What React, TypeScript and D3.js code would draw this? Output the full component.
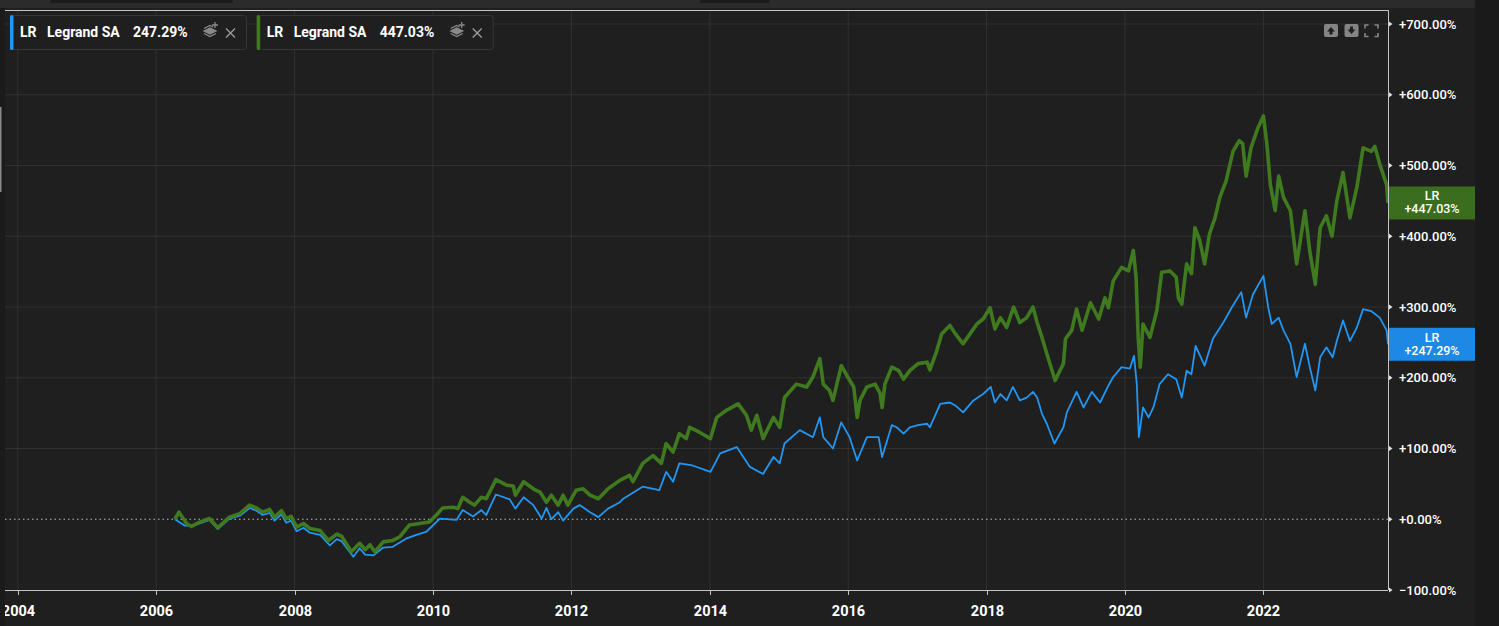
import React from "react";
import * as d3 from "d3";

const W = 1499;
const H = 626;

// [decimal year, % change since IPO] — price only
const priceReturn: [number, number][] = [
  [2006.27, 0], [2006.41, -9], [2006.53, -9], [2006.63, -6], [2006.77, -1], [2006.89, -14],
  [2007.06, 1], [2007.21, 5], [2007.35, 16], [2007.45, 12], [2007.54, 6], [2007.64, 9],
  [2007.71, -2], [2007.81, 7], [2007.88, -5], [2007.95, -2], [2008.03, -17], [2008.13, -12],
  [2008.22, -19], [2008.37, -22], [2008.51, -37], [2008.61, -28], [2008.68, -31], [2008.85, -53],
  [2008.94, -41], [2009.02, -50], [2009.14, -51], [2009.28, -40], [2009.42, -39], [2009.62, -27],
  [2009.76, -22], [2009.9, -18], [2010.1, 1], [2010.34, -1], [2010.43, 13], [2010.58, 4],
  [2010.7, 13], [2010.77, 6], [2010.91, 35], [2011.11, 28], [2011.19, 15], [2011.31, 31],
  [2011.45, 20], [2011.57, 1], [2011.64, 16], [2011.71, 0], [2011.81, 10], [2011.88, -2],
  [2012.03, 15], [2012.12, 20], [2012.27, 10], [2012.39, 3], [2012.53, 15], [2012.7, 24],
  [2012.75, 29], [2013.03, 46], [2013.27, 41], [2013.37, 67], [2013.47, 53], [2013.56, 79],
  [2013.75, 76], [2014.01, 67], [2014.15, 93], [2014.39, 102], [2014.58, 74], [2014.77, 64],
  [2014.92, 88], [2015.01, 79], [2015.08, 107], [2015.3, 126], [2015.49, 116], [2015.59, 144],
  [2015.64, 116], [2015.78, 100], [2015.9, 137], [2016.02, 116], [2016.13, 83], [2016.27, 116],
  [2016.44, 116], [2016.49, 88], [2016.63, 133], [2016.7, 130], [2016.8, 121], [2016.89, 130],
  [2017.01, 133], [2017.14, 135], [2017.18, 130], [2017.33, 163], [2017.47, 165], [2017.56, 160],
  [2017.66, 151], [2017.81, 168], [2017.95, 177], [2018.06, 187], [2018.12, 165], [2018.2, 177],
  [2018.29, 168], [2018.38, 187], [2018.48, 168], [2018.58, 172], [2018.67, 180], [2018.73, 172],
  [2018.8, 149], [2018.87, 135], [2018.98, 107], [2019.11, 130], [2019.16, 151], [2019.3, 180],
  [2019.4, 158], [2019.52, 180], [2019.64, 165], [2019.76, 189], [2019.83, 201], [2019.95, 215],
  [2020.07, 213], [2020.13, 231], [2020.17, 191], [2020.2, 116], [2020.26, 158], [2020.34, 144],
  [2020.41, 158], [2020.5, 191], [2020.62, 205], [2020.74, 198], [2020.82, 172], [2020.89, 210],
  [2020.96, 205], [2021.02, 245], [2021.15, 217], [2021.27, 255], [2021.42, 278], [2021.54, 299],
  [2021.68, 321], [2021.75, 285], [2021.85, 318], [2022.0, 344], [2022.07, 299], [2022.12, 276],
  [2022.22, 285], [2022.29, 267], [2022.39, 248], [2022.48, 201], [2022.6, 248], [2022.67, 215],
  [2022.75, 182], [2022.82, 229], [2022.91, 243], [2023.0, 229], [2023.06, 252], [2023.15, 281],
  [2023.25, 252], [2023.35, 271], [2023.44, 297], [2023.56, 294], [2023.68, 285], [2023.78, 267],
  [2023.8, 247],
];

// [decimal year, % change since IPO] — dividends reinvested
const totalReturn: [number, number][] = [
  [2006.27, 0], [2006.33, 10], [2006.44, -6], [2006.51, -10], [2006.63, -4], [2006.77, 1],
  [2006.89, -12], [2007.06, 3], [2007.21, 8], [2007.35, 20], [2007.45, 16], [2007.54, 10],
  [2007.64, 14], [2007.71, 3], [2007.81, 12], [2007.88, 1], [2007.95, 4], [2008.03, -11],
  [2008.13, -6], [2008.22, -13], [2008.37, -16], [2008.49, -30], [2008.61, -21], [2008.68, -24],
  [2008.82, -46], [2008.94, -34], [2009.02, -43], [2009.09, -36], [2009.16, -46], [2009.28, -32],
  [2009.42, -30], [2009.52, -25], [2009.66, -8], [2009.81, -6], [2009.95, -4], [2010.05, 6],
  [2010.14, 16], [2010.29, 17], [2010.36, 15], [2010.43, 31], [2010.53, 24], [2010.6, 20],
  [2010.7, 31], [2010.77, 29], [2010.91, 56], [2011.07, 48], [2011.16, 47], [2011.19, 34],
  [2011.31, 53], [2011.45, 43], [2011.55, 38], [2011.64, 24], [2011.71, 34], [2011.81, 20],
  [2011.88, 34], [2011.95, 20], [2012.07, 41], [2012.17, 43], [2012.27, 34], [2012.39, 29],
  [2012.53, 43], [2012.7, 55], [2012.84, 62], [2012.89, 53], [2013.03, 79], [2013.18, 90],
  [2013.3, 79], [2013.37, 107], [2013.47, 95], [2013.56, 121], [2013.66, 114], [2013.71, 130],
  [2013.85, 123], [2014.01, 114], [2014.1, 144], [2014.24, 154], [2014.41, 163], [2014.53, 147],
  [2014.6, 126], [2014.68, 147], [2014.77, 114], [2014.92, 144], [2015.01, 130], [2015.08, 172],
  [2015.25, 191], [2015.4, 187], [2015.49, 201], [2015.59, 227], [2015.64, 191], [2015.73, 182],
  [2015.78, 168], [2015.9, 217], [2016.0, 200], [2016.08, 187], [2016.13, 144], [2016.17, 168],
  [2016.27, 187], [2016.39, 191], [2016.46, 178], [2016.49, 158], [2016.53, 191], [2016.63, 215],
  [2016.73, 210], [2016.8, 198], [2016.89, 210], [2017.01, 220], [2017.14, 222], [2017.18, 211],
  [2017.28, 238], [2017.35, 262], [2017.47, 274], [2017.55, 262], [2017.66, 248], [2017.76, 262],
  [2017.86, 276], [2017.95, 283], [2018.05, 299], [2018.12, 269], [2018.2, 285], [2018.29, 271],
  [2018.39, 300], [2018.48, 278], [2018.58, 285], [2018.67, 300], [2018.73, 278], [2018.8, 257],
  [2018.87, 234], [2018.99, 196], [2019.11, 220], [2019.14, 255], [2019.23, 267], [2019.3, 297],
  [2019.38, 267], [2019.5, 306], [2019.62, 283], [2019.71, 313], [2019.76, 299], [2019.83, 337],
  [2019.95, 356], [2020.05, 351], [2020.12, 380], [2020.16, 342], [2020.19, 257], [2020.22, 215],
  [2020.26, 276], [2020.36, 257], [2020.46, 295], [2020.53, 349], [2020.65, 351], [2020.74, 342],
  [2020.77, 313], [2020.82, 304], [2020.89, 361], [2020.96, 347], [2021.01, 412], [2021.08, 394],
  [2021.15, 361], [2021.22, 403], [2021.3, 426], [2021.37, 455], [2021.46, 478], [2021.56, 520],
  [2021.65, 535], [2021.7, 531], [2021.75, 485], [2021.82, 525], [2021.92, 553], [2022.0, 570],
  [2022.05, 530], [2022.1, 473], [2022.17, 436], [2022.22, 485], [2022.29, 455], [2022.39, 436],
  [2022.48, 361], [2022.6, 436], [2022.67, 379], [2022.75, 332], [2022.82, 412], [2022.91, 429],
  [2022.99, 400], [2023.06, 450], [2023.15, 490], [2023.25, 426], [2023.35, 469], [2023.44, 525],
  [2023.56, 520], [2023.61, 527], [2023.68, 502], [2023.78, 473], [2023.8, 447],
];

const xTicks = [2004, 2006, 2008, 2010, 2012, 2014, 2016, 2018, 2020, 2022];
const yTicks = [-100, 0, 100, 200, 300, 400, 500, 600, 700];

const BLUE = "#2196f3";
const GREEN = "#3f7a1f";

const legendItems = [
  { symbol: "LR", name: "Legrand SA", change: "247.29%", color: BLUE },
  { symbol: "LR", name: "Legrand SA", change: "447.03%", color: GREEN },
];

const lastValues = [
  { symbol: "LR", value: 447.03, color: "#3a6e1e" },
  { symbol: "LR", value: 247.29, color: "#1e88e5" },
];

const FONT = "Roboto, 'Noto Sans', Arial, sans-serif";

function LayersIcon({ x, y }: { x: number; y: number }) {
  return (
    <g transform={`translate(${x},${y})`} fill="none" stroke="#8a8a8a" strokeWidth={1.3}>
      <path d="M1 9 L7 6 L13 9 L7 12 Z" fill="#8a8a8a" />
      <path d="M1 11.5 L7 14.5 L13 11.5" />
      <path d="M1 6.5 L7 3.5 L10 5" />
      <path d="M12 0 V6 M9 3 H15" />
    </g>
  );
}

export default function App() {
  const plot = { left: 5, right: 1388, top: 10, bottom: 590 };

  const x = d3
    .scaleLinear()
    .domain([2003.816, 2023.8])
    .range([plot.left, plot.right]);
  const y = d3.scaleLinear().domain([-100, 700]).range([590, 24]);

  const line = d3
    .line<[number, number]>()
    .x((d) => x(d[0]))
    .y((d) => y(d[1]));

  return (
    <div
      style={{
        position: "fixed",
        left: 0,
        top: 0,
        width: W,
        height: H,
        overflow: "hidden",
        background: "#1f1f1f",
      }}
    >
      <svg width={W} height={H} style={{ display: "block", fontFamily: FONT }}>
        <defs>
          <clipPath id="plot-clip">
            <rect
              x={plot.left}
              y={plot.top}
              width={plot.right - plot.left}
              height={plot.bottom - plot.top}
            />
          </clipPath>
          <clipPath id="xlab-clip">
            <rect x={plot.left} y={590} width={W - plot.left} height={36} />
          </clipPath>
        </defs>

        {/* chrome around the chart */}
        <rect x={0} y={0} width={W} height={H} fill="#1f1f1f" />
        <rect x={0} y={0} width={1475} height={8} fill="#2b2b2b" />
        <rect x={50} y={0} width={183} height={3} rx={1.5} fill="#1c1c1c" />
        <rect x={700} y={0} width={70} height={3} rx={1.5} fill="#1c1c1c" />
        <rect x={1475} y={0} width={W - 1475} height={H} fill="#1a1a1a" />
        <rect x={0} y={8} width={plot.left} height={H - 8} fill="#1b1b1b" />
        <rect x={0} y={107} width={1.5} height={85} fill="#8a8a8a" />

        {/* grid */}
        <g stroke="#303030" strokeWidth={1}>
          {xTicks.map((t) => (
            <line key={t} x1={x(t)} x2={x(t)} y1={plot.top} y2={plot.bottom} />
          ))}
          {yTicks
            .filter((v) => v !== 0 && v !== -100)
            .map((v) => (
              <line key={v} x1={plot.left} x2={plot.right} y1={y(v)} y2={y(v)} />
            ))}
        </g>

        {/* zero reference */}
        <line
          x1={plot.left}
          x2={plot.right}
          y1={y(0)}
          y2={y(0)}
          stroke="#bdbdbd"
          strokeWidth={1}
          strokeDasharray="1.5 3"
        />

        {/* series */}
        <g clipPath="url(#plot-clip)" fill="none" strokeLinejoin="round">
          <path d={line(priceReturn) ?? ""} stroke={BLUE} strokeWidth={1.8} />
          <path d={line(totalReturn) ?? ""} stroke={GREEN} strokeWidth={3.6} />
        </g>

        {/* frame */}
        <line x1={plot.left} x2={plot.right} y1={10.5} y2={10.5} stroke="#c4c4c4" />
        <line x1={plot.right + 0.5} x2={plot.right + 0.5} y1={10} y2={plot.bottom} stroke="#c4c4c4" />
        <line x1={plot.left} x2={plot.right} y1={plot.bottom + 0.5} y2={plot.bottom + 0.5} stroke="#c4c4c4" />

        {/* x axis */}
        <g clipPath="url(#xlab-clip)">
          {xTicks.map((t) => (
            <g key={t} transform={`translate(${Math.round(x(t)) + 0.5},0)`}>
              <line y1={590} y2={595} stroke="#c4c4c4" />
              <text
                y={616}
                textAnchor="middle"
                fill="#ffffff"
                fontSize={14.5}
                fontWeight={700}
              >
                {t}
              </text>
            </g>
          ))}
        </g>

        {/* y axis */}
        {yTicks.map((v) => (
          <g key={v} transform={`translate(0,${y(v)})`}>
            <path d={`M${plot.right + 1},-2.5 L${plot.right + 4.5},0 L${plot.right + 1},2.5 Z`} fill="#e0e0e0" />
            <text x={1399} dy="0.35em" fill="#ffffff" fontSize={13} fontWeight={500}>
              {(v >= 0 ? "+" : "") + d3.format(".2f")(v) + "%"}
            </text>
          </g>
        ))}

        {/* last value tags */}
        {lastValues.map((d, i) => {
          const cy = y(d.value);
          return (
            <g key={i} transform={`translate(${plot.right + 1},${cy - 16.5})`}>
              <rect width={86} height={33} fill={d.color} />
              <text x={43} y={14} textAnchor="middle" fill="#ffffff" fontSize={12.5} fontWeight={500}>
                {d.symbol}
              </text>
              <text x={43} y={27} textAnchor="middle" fill="#ffffff" fontSize={12.5} fontWeight={500}>
                {(d.value >= 0 ? "+" : "") + d3.format(".2f")(d.value) + "%"}
              </text>
            </g>
          );
        })}

        {/* legend */}
        {legendItems.map((d, i) => {
          const lx = 10 + i * 246.7;
          return (
            <g key={i} transform={`translate(${lx},15)`}>
              <rect x={0.5} y={0.5} width={236} height={34} rx={3} fill="#1f1f1f" stroke="#363636" />
              <rect x={0} y={0} width={3.5} height={35} rx={1.5} fill={d.color} />
              <g fill="#ffffff" fontSize={14} fontWeight={700}>
                <text x={10} y={21.5}>{d.symbol}</text>
                <text x={37} y={21.5}>{d.name}</text>
                <text x={123} y={21.5}>{d.change}</text>
              </g>
              <LayersIcon x={193} y={7} />
              <path d="M216 13.5 L225 22.5 M225 13.5 L216 22.5" stroke="#9a9a9a" strokeWidth={1.4} />
            </g>
          );
        })}

        {/* toolbar buttons */}
        <g>
          <rect x={1324} y={24} width={14} height={13} rx={2} fill="#858585" />
          <path d="M1331 27 L1335 31.5 H1332.5 V34.5 H1329.5 V31.5 H1327 Z" fill="#1f1f1f" />
          <rect x={1344.5} y={24} width={14} height={13} rx={2} fill="#858585" />
          <path d="M1351.5 34 L1355.5 29.5 H1353 V26.5 H1350 V29.5 H1347.5 Z" fill="#1f1f1f" />
          <path
            d="M1365 28.5 V25 H1368.5 M1374.5 25 H1378 V28.5 M1378 33 V36.5 H1374.5 M1368.5 36.5 H1365 V33"
            fill="none"
            stroke="#858585"
            strokeWidth={1.6}
          />
        </g>
      </svg>
    </div>
  );
}
